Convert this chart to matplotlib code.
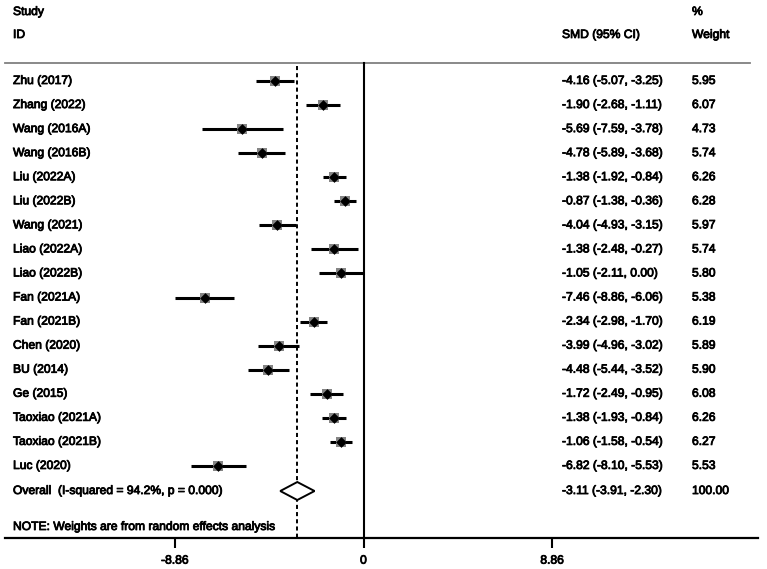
import matplotlib
matplotlib.use("Agg")
import matplotlib.pyplot as plt
import matplotlib.patheffects as pe
import numpy as np

plt.rcParams['font.family'] = ['Liberation Sans', 'DejaVu Sans']

# study data
studies = ["Zhu (2017)", "Zhang (2022)", "Wang (2016A)", "Wang (2016B)", "Liu (2022A)",
           "Liu (2022B)", "Wang (2021)", "Liao (2022A)", "Liao (2022B)", "Fan (2021A)",
           "Fan (2021B)", "Chen (2020)", "BU (2014)", "Ge (2015)", "Taoxiao (2021A)",
           "Taoxiao (2021B)", "Luc (2020)"]
smd = [-4.16, -1.90, -5.69, -4.78, -1.38, -0.87, -4.04, -1.38, -1.05, -7.46,
       -2.34, -3.99, -4.48, -1.72, -1.38, -1.06, -6.82]
lo = [-5.07, -2.68, -7.59, -5.89, -1.92, -1.38, -4.93, -2.48, -2.11, -8.86,
      -2.98, -4.96, -5.44, -2.49, -1.93, -1.58, -8.10]
hi = [-3.25, -1.11, -3.78, -3.68, -0.84, -0.36, -3.15, -0.27, 0.00, -6.06,
      -1.70, -3.02, -3.52, -0.95, -0.84, -0.54, -5.53]
weights = [5.95, 6.07, 4.73, 5.74, 6.26, 6.28, 5.97, 5.74, 5.80, 5.38,
           6.19, 5.89, 5.90, 6.08, 6.26, 6.27, 5.53]
overall = -3.11
overall_lo, overall_hi = -3.91, -2.30
overall_label = "Overall  (I-squared = 94.2%, p = 0.000)"
note = "NOTE: Weights are from random effects analysis"
xticks = [-8.86, 0, 8.86]

W, H = 767, 569
zero_px, scale = 363.5, 21.29


def px2x(px):
    return (px - zero_px) / scale


fs = 8.7
heavy = [pe.withStroke(linewidth=0.6, foreground="black")]

fig = plt.figure(figsize=(W / 100, H / 100), dpi=100)
axis_y = 538
ax = fig.add_axes([5 / W, (H - axis_y) / H, (758 - 5) / W, axis_y / H])
ax.set_xlim(px2x(5), px2x(758))
ax.set_ylim(axis_y, 0)
for s in ["top", "left", "right"]:
    ax.spines[s].set_visible(False)
ax.spines["bottom"].set_linewidth(1.6)
ax.set_yticks([])
ax.set_xticks(xticks)
ax.set_xticklabels(["-8.86", "0", "8.86"])
ax.tick_params(axis="x", direction="out", length=7, width=1.5, pad=5, labelsize=fs)
for lab in ax.get_xticklabels():
    lab.set_path_effects(heavy)


def put(x_px, y, s):
    ax.text(px2x(x_px), y, s, fontsize=fs, va="center", clip_on=False, path_effects=heavy)


row0, step = 81, 24.06
rows = row0 + step * np.arange(len(studies))
overall_y = row0 + step * len(studies) + 1

# header
put(13, 12, "Study")
put(13, 35, "ID")
put(562, 35, "SMD (95% CI)")
put(692, 12, "%")
put(692, 35, "Weight")
ax.plot([px2x(5), px2x(750)], [63, 63], color="#808080", lw=1.3, clip_on=False)

# reference lines
ax.plot([0, 0], [63, axis_y], color="black", lw=1.5)
ax.plot([overall, overall], [66, axis_y], color="black", lw=1.4, ls=(0, (2.1, 1.6)))

# studies
for y, name, m, l, h, w in zip(rows, studies, smd, lo, hi, weights):
    ax.plot([l, h], [y, y], color="black", lw=2.2, solid_capstyle="butt", zorder=3)
    side = 3.1 * np.sqrt(w)
    ax.scatter([m], [y], marker="s", s=side ** 2, color="#858585", zorder=4, linewidths=0)
    ax.scatter([m], [y], marker="D", s=30, color="black", zorder=5, linewidths=0)
    put(13, y, name)
    put(562, y, f"{m:.2f} ({l:.2f}, {h:.2f})")
    put(692, y, f"{w:.2f}")

# overall diamond
ax.fill([overall_lo, overall, overall_hi, overall, overall_lo],
        [overall_y, overall_y - 9, overall_y, overall_y + 9, overall_y],
        facecolor="white", edgecolor="black", lw=1.4, zorder=4)
put(13, overall_y, overall_label)
put(562, overall_y, f"{overall:.2f} ({overall_lo:.2f}, {overall_hi:.2f})")
put(692, overall_y, "100.00")

put(13, 527, note)

fig.savefig("out.png", dpi=100)
